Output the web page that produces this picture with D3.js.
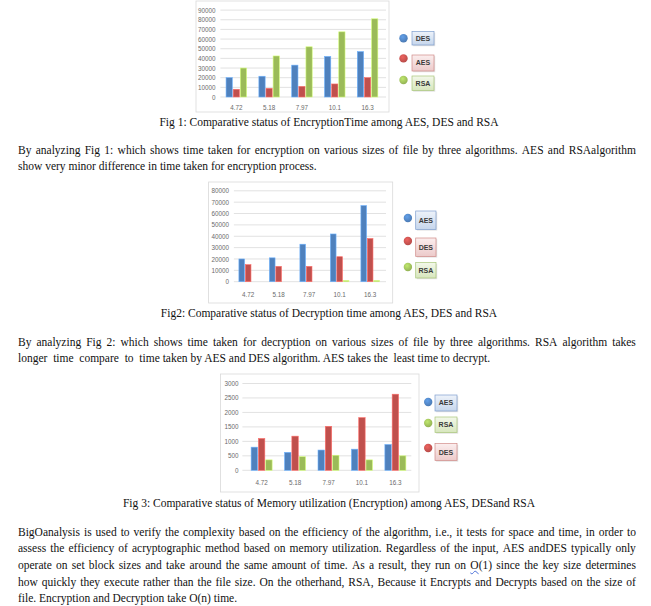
<!DOCTYPE html>
<html>
<head>
<meta charset="utf-8">
<script src="https://cdn.jsdelivr.net/npm/d3@7/dist/d3.min.js"></script>
<style>
  html, body { margin: 0; padding: 0; background: #fff; }
  #page { position: relative; width: 651px; height: 606px; overflow: hidden; background: #fff; }
  svg { position: absolute; left: 0; top: 0; }
  .txt { position: absolute; font-family: "Liberation Serif", "Times New Roman", serif; font-size: 11.5px; color: #111; white-space: nowrap; line-height: 16px; }
  .cap { text-align: center; }
  .just { display: flex; justify-content: space-between; }
  .sq { text-decoration: underline wavy #4a6fd8; text-decoration-thickness: 1px; }
</style>
</head>
<body>
<div id="page"></div>
<script>
// ---------------- DATA ----------------
const categories = ["4.72", "5.18", "7.97", "10.1", "16.3"];

// Fig 1: Encryption time
const fig1Series = ["DES", "AES", "RSA"];
const fig1DES = [20000, 21500, 33000, 42000, 47000];
const fig1AES = [8000, 9000, 11000, 13500, 20000];
const fig1RSA = [30000, 42500, 52000, 67500, 81000];
const fig1Ticks = [0, 10000, 20000, 30000, 40000, 50000, 60000, 70000, 80000, 90000];

// Fig 2: Decryption time
const fig2Series = ["AES", "DES", "RSA"];
const fig2AES = [20000, 21000, 33000, 42000, 67000];
const fig2DES = [15000, 13500, 13500, 22000, 38000];
const fig2RSA = [0, 0, 0, 1000, 1000];
const fig2Ticks = [0, 10000, 20000, 30000, 40000, 50000, 60000, 70000, 80000];

// Fig 3: Memory utilization (Encryption)
const fig3Series = ["AES", "DES", "RSA"];
const fig3Legend = ["AES", "RSA", "DES"];
const fig3AES = [800, 620, 700, 730, 890];
const fig3DES = [1100, 1180, 1520, 1820, 2630];
const fig3RSA = [360, 470, 520, 360, 500];
const fig3Ticks = [0, 500, 1000, 1500, 2000, 2500, 3000];

// Texts
const captions = [
  "Fig 1: Comparative status of EncryptionTime among AES, DES and RSA",
  "Fig2: Comparative status of Decryption time among AES, DES and RSA",
  "Fig 3: Comparative status of Memory utilization (Encryption) among AES, DESand RSA"
];

// ---------------- STYLE ----------------
const colors = { AES: "#C0504D", DES: "#4F81BD", RSA: "#9BBB59" };
const colorsFig2 = { AES: "#4F81BD", DES: "#C0504D", RSA: "#9BBB59" };
const boxFill = { "#4F81BD": ["#eef3fa", "#c6d6ec", "#7f9fcf"], "#C0504D": ["#fbeeee", "#eccaca", "#d08a88"], "#9BBB59": ["#f3f8ea", "#d7e6bd", "#a9c67a"] };

const page = d3.select("#page");
const svg = page.append("svg").attr("width", 651).attr("height", 606);
const defs = svg.append("defs");

Object.entries(boxFill).forEach(([c, v], i) => {
  const g = defs.append("linearGradient").attr("id", "bg" + i).attr("x1", 0).attr("y1", 0).attr("x2", 0).attr("y2", 1);
  g.append("stop").attr("offset", "0%").attr("stop-color", v[0]);
  g.append("stop").attr("offset", "100%").attr("stop-color", v[1]);
  const r = defs.append("radialGradient").attr("id", "cg" + i).attr("cx", "40%").attr("cy", "35%").attr("r", "70%");
  r.append("stop").attr("offset", "0%").attr("stop-color", d3.color(c).brighter(0.6));
  r.append("stop").attr("offset", "100%").attr("stop-color", d3.color(c).darker(0.2));
});
const gradIndex = c => Object.keys(boxFill).indexOf(c);

function drawChart(cfg) {
  const g = svg.append("g");
  g.append("rect").attr("x", cfg.frame[0]).attr("y", cfg.frame[1])
    .attr("width", cfg.frame[2] - cfg.frame[0]).attr("height", cfg.frame[3] - cfg.frame[1])
    .attr("fill", "#fff").attr("stroke", "#d9d9d9").attr("stroke-width", 0.8);

  const y = d3.scaleLinear().domain(cfg.domain).range(cfg.yRange);
  const x0 = d3.scaleBand().domain(categories).range(cfg.xRange).paddingInner(0).paddingOuter(0);
  const x1 = d3.scaleBand().domain(cfg.series).range([-cfg.group / 2, cfg.group / 2]).paddingInner(0.12);

  g.append("g").selectAll("line").data(cfg.ticks).join("line")
    .attr("x1", cfg.grid[0]).attr("x2", cfg.grid[1])
    .attr("y1", d => y(d)).attr("y2", d => y(d))
    .attr("stroke", "#d9d9d9").attr("stroke-width", 0.8);

  const yAxis = d3.axisLeft(y).tickValues(cfg.ticks).tickSize(0).tickPadding(0).tickFormat(d3.format("d"));
  const ya = g.append("g").attr("transform", `translate(${cfg.labelRight},0)`).call(yAxis);
  ya.select(".domain").remove();
  ya.selectAll("text").attr("font-family", "'Liberation Sans Narrow', 'Arial Narrow', Arial, sans-serif")
    .attr("font-size", 6.3).attr("fill", "#6b6b6b");

  const xAxis = d3.axisBottom(x0).tickSize(0).tickPadding(0);
  const xa = g.append("g").attr("transform", `translate(0,${cfg.xLabelY})`).call(xAxis);
  xa.select(".domain").remove();
  xa.selectAll("text").attr("font-family", "'Liberation Sans Narrow', 'Arial Narrow', Arial, sans-serif")
    .attr("font-size", 6.3).attr("fill", "#6b6b6b").attr("dy", "0.35em").attr("y", 0);

  const rows = [];
  categories.forEach((c, i) => cfg.series.forEach(s => rows.push({ c, s, v: cfg.values[s][i] })));
  g.append("g").selectAll("rect").data(rows).join("rect")
    .attr("x", d => x0(d.c) + x0.bandwidth() / 2 + x1(d.s))
    .attr("width", x1.bandwidth())
    .attr("y", d => y(d.v))
    .attr("height", d => y(0) - y(d.v))
    .attr("fill", d => cfg.colors[d.s])
    .attr("stroke", d => d3.color(cfg.colors[d.s]).brighter(0.9))
    .attr("stroke-width", 0.6);

  const lg = g.append("g");
  cfg.legend.forEach((s, i) => {
    const c = cfg.colors[s];
    const gi = gradIndex(c);
    lg.append("circle").attr("cx", cfg.legendCx).attr("cy", cfg.legendCy[i]).attr("r", 4.2)
      .attr("fill", `url(#cg${gi})`);
    const [bx0, bx1] = cfg.boxX;
    const [by0, by1] = cfg.boxY[i];
    lg.append("rect").attr("x", bx0 + 1.2).attr("y", by0 + 1.2).attr("width", bx1 - bx0).attr("height", by1 - by0)
      .attr("fill", "#cfcfcf").attr("opacity", 0.6);
    lg.append("rect").attr("x", bx0).attr("y", by0).attr("width", bx1 - bx0).attr("height", by1 - by0)
      .attr("fill", `url(#bg${gi})`).attr("stroke", boxFill[c][2]).attr("stroke-width", 0.7);
    lg.append("text").attr("x", (bx0 + bx1) / 2).attr("y", (by0 + by1) / 2).attr("dy", "0.35em")
      .attr("text-anchor", "middle")
      .attr("font-family", "'Liberation Sans Narrow', 'Arial Narrow', Arial, sans-serif")
      .attr("font-size", 7).attr("font-weight", "bold").attr("fill", "#3a3a3a").text(s);
  });
}

drawChart({
  frame: [196, 1, 389, 112],
  domain: [0, 90000], yRange: [97, 10.1], ticks: fig1Ticks,
  xRange: [219.9, 384], grid: [220.4, 386], labelRight: 215.5, xLabelY: 108,
  group: 20.5, series: fig1Series,
  values: { DES: fig1DES, AES: fig1AES, RSA: fig1RSA }, colors: colors,
  legend: fig1Series, legendCx: 403.5, legendCy: [38.2, 58.4, 80],
  boxX: [412, 434], boxY: [[31.4, 45], [55, 71], [76, 90.5]]
});

drawChart({
  frame: [208.6, 182, 392.7, 303],
  domain: [0, 80000], yRange: [281.7, 190.8], ticks: fig2Ticks,
  xRange: [232.9, 385.4], grid: [233.9, 386], labelRight: 229, xLabelY: 294.5,
  group: 18.5, series: fig2Series,
  values: { AES: fig2AES, DES: fig2DES, RSA: fig2RSA }, colors: colorsFig2,
  legend: fig2Series, legendCx: 407.9, legendCy: [218, 241, 267],
  boxX: [415.7, 436], boxY: [[211, 229.4], [238, 256.4], [262.5, 278]]
});

drawChart({
  frame: [220.4, 374, 419, 492],
  domain: [0, 3000], yRange: [470.3, 383.5], ticks: fig3Ticks,
  xRange: [244.9, 412.1], grid: [242.4, 411.3], labelRight: 238.5, xLabelY: 483.2,
  group: 21, series: fig3Series,
  values: { AES: fig3AES, DES: fig3DES, RSA: fig3RSA }, colors: colorsFig2,
  legend: fig3Legend, legendCx: 428.2, legendCy: [402, 423, 448],
  boxX: [435, 457], boxY: [[395, 411], [417, 432.5], [443.6, 460.5]]
});

// ---------------- TEXT ----------------
function caption(t, cy) {
  page.append("div").attr("class", "txt cap")
    .style("left", "0px").style("width", "658px").style("top", (cy - 8) + "px").text(t);
}
function line(t, cy, justify) {
  const d = page.append("div").attr("class", "txt" + (justify ? " just" : ""))
    .style("left", "18px").style("top", (cy - 8) + "px");
  if (justify) {
    d.style("width", "618px");
    t.split(" ").forEach(w => {
      const s = d.append("span");
      if (w === "O(1)") { s.append("span").attr("class", "sq").text("O"); s.append("span").text("(1)"); }
      else s.text(w);
    });
  } else {
    d.html(t);
  }
}
caption(captions[0], 121.5);
caption(captions[1], 312.8);
caption(captions[2], 502.5);

line("By analyzing Fig 1: which shows time taken for encryption on various sizes of file by three algorithms. AES and RSAalgorithm", 150, true);
line("show very minor difference in time taken for encryption process.", 166.3, false);

line("By analyzing Fig 2: which shows time taken for decryption on various sizes of file by three algorithms. RSA algorithm takes", 341.8, true);
line("longer&nbsp; time&nbsp; compare&nbsp; to&nbsp; time taken by AES and DES algorithm. AES takes the &nbsp;least time to decrypt.", 358.3, false);

line("BigOanalysis is used to verify the complexity based on the efficiency of the algorithm, i.e., it tests for space and time, in order to", 531.7, true);
line("assess the efficiency of acryptographic method based on memory utilization. Regardless of the input, AES andDES typically only", 548.3, true);
line("operate on set block sizes and take around the same amount of time. As a result, they run on O(1) since the key size determines", 565, true);
line("how quickly they execute rather than the file size. On the otherhand, RSA, Because it Encrypts and Decrypts based on the size of", 581.7, true);
line("file. Encryption and Decryption take O(n) time.", 597.8, false);
</script>
</body>
</html>
